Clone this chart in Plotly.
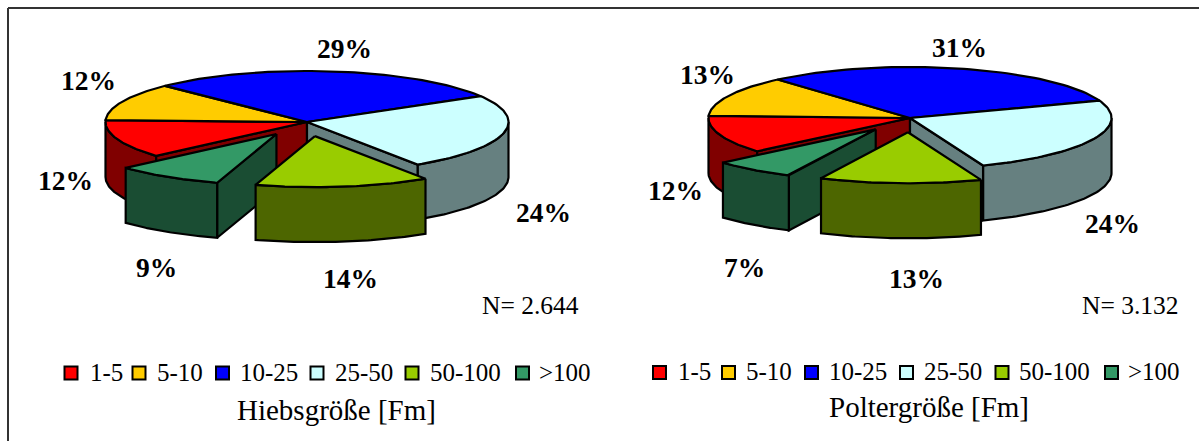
import numpy as np
import plotly.graph_objects as go

# ---- data ----
categories = ["1-5", "5-10", "10-25", "25-50", "50-100", ">100"]
hieb_values = [12.1, 12.0, 29.0, 24.2, 14.0, 8.7]
polter_values = [12.0, 12.9, 30.9, 24.6, 13.0, 6.6]
hieb_labels = ["12%", "12%", "29%", "24%", "14%", "9%"]
polter_labels = ["12%", "13%", "31%", "24%", "13%", "7%"]
hieb_title = "Hiebsgröße [Fm]"
polter_title = "Poltergröße [Fm]"
hieb_n = "N= 2.644"
polter_n = "N= 3.132"

# ---- styles ----
top_colors = ["#FF0000", "#FFCC00", "#0000FF", "#CCFFFF", "#99CC00", "#339966"]
side_colors = ["#800000", "#806600", "#000080", "#668080", "#4D6600", "#1A4D33"]
FONT = "Liberation Serif"
RX, RY, DEPTH, EXPLODE = 201.5, 51.0, 55.0, 0.28
LW = 2.2

fig = go.Figure()


def arc(cx, cy, a0, a1, n=60):
    t = np.radians(np.linspace(a0, a1, n))
    return cx + RX * np.cos(t), cy - RY * np.sin(t)


def poly(xs, ys, color):
    fig.add_trace(go.Scatter(
        x=np.round(xs, 2).tolist(), y=np.round(ys, 2).tolist(), mode="lines",
        fill="toself", fillcolor=color, line=dict(color="black", width=LW),
        hoverinfo="skip", showlegend=False))


def top(cx, cy, a0, a1, color):
    ax, ay = arc(cx, cy, a0, a1)
    poly(np.r_[cx, ax, cx], np.r_[cy, ay, cy], color)


def wall_arc(cx, cy, a0, a1, color):
    ax, ay = arc(cx, cy, a0, a1)
    poly(np.r_[ax, ax[::-1], ax[0]], np.r_[ay, ay[::-1] + DEPTH, ay[0]], color)


def wall_cut(cx, cy, a, color):
    px, py = arc(cx, cy, a, a, 1)
    poly(np.r_[cx, px, px, cx, cx], np.r_[cy, py, py + DEPTH, cy + DEPTH, cy], color)


def pie3d(values, cx, cy, split):
    """split = angle of the boundary between the first two slices; slices run clockwise."""
    start = split + values[0] * 3.6
    b = start - np.cumsum([0] + list(values)) * 3.6
    off = []
    for i in (4, 5):
        m = np.radians((b[i] + b[i + 1]) / 2)
        off.append((cx + EXPLODE * RX * np.cos(m), cy - EXPLODE * RY * np.sin(m)))
    # body of the pie, back to front
    wall_arc(cx, cy, 180, b[0], side_colors[0])
    wall_cut(cx, cy, b[0], side_colors[0])
    wall_arc(cx, cy, 0, b[4], side_colors[3])
    wall_cut(cx, cy, b[4], side_colors[3])
    top(cx, cy, b[0], b[1], top_colors[0])
    top(cx, cy, b[1], b[2], top_colors[1])
    top(cx, cy, b[2], b[3], top_colors[2])
    top(cx, cy, b[3], b[4], top_colors[3])
    # >100 slice
    tx, ty = off[1]
    wall_cut(tx, ty, b[5], side_colors[5])
    wall_arc(tx, ty, b[5], b[6], side_colors[5])
    top(tx, ty, b[5], b[6], top_colors[5])
    # 50-100 slice
    gx, gy = off[0]
    wall_arc(gx, gy, b[4], b[5], side_colors[4])
    top(gx, gy, b[4], b[5], top_colors[4])


pie3d(hieb_values, 307, 122, 178)
pie3d(polter_values, 910, 118, 177.5)

# ---- legends ----
hieb_key_x = [71, 139, 222.5, 317, 412, 522.5]
hieb_txt_x = [88, 155, 238, 333, 428, 537]
polter_key_x = [659.5, 728.5, 811.5, 906.5, 1002, 1111.5]
polter_txt_x = [676, 744, 827, 922, 1017, 1126]
LEG_Y = (373, 372.5)

annotations = []


def note(x, y, text, size, bold=False, anchor="center"):
    annotations.append(dict(
        x=x, y=y, xref="x", yref="y", text=f"<b>{text}</b>" if bold else text,
        showarrow=False, xanchor=anchor, yanchor="middle",
        font=dict(family=FONT, size=size, color="black")))


for keys, txts, y in ((hieb_key_x, hieb_txt_x, LEG_Y[0]), (polter_key_x, polter_txt_x, LEG_Y[1])):
    for k, t, name, col in zip(keys, txts, categories, top_colors):
        fig.add_trace(go.Scatter(
            x=[k], y=[y], mode="markers", name=name, showlegend=False, hoverinfo="skip",
            marker=dict(symbol="square", size=13, color=col, line=dict(color="black", width=2))))
        note(t, y - 1, name, 25, anchor="left")

# ---- data labels ----
hieb_lab_xy = [(65, 180), (88, 80), (344, 48), (543, 212), (350, 278), (156, 267)]
polter_lab_xy = [(675, 190), (707, 74), (959, 47), (1112, 223), (916, 278), (744, 267)]
for txt, (x, y) in zip(hieb_labels, hieb_lab_xy):
    note(x, y, txt, 27.5, bold=True)
for txt, (x, y) in zip(polter_labels, polter_lab_xy):
    note(x, y, txt, 27.5, bold=True)

note(530, 305, hieb_n, 25.5)
note(1130, 305, polter_n, 25.5)
note(336, 410, hieb_title, 29)
note(929, 407, polter_title, 29)

fig.update_layout(
    width=1199, height=441, margin=dict(l=0, r=0, t=0, b=0),
    paper_bgcolor="white", plot_bgcolor="white", showlegend=False,
    annotations=annotations,
    xaxis=dict(range=[0, 1199], visible=False, fixedrange=True),
    yaxis=dict(range=[441, 0], visible=False, fixedrange=True),
    shapes=[dict(type="line", xref="x", yref="y", x0=8, y0=8, x1=1199, y1=8,
                 line=dict(color="#333333", width=2), layer="below"),
            dict(type="line", xref="x", yref="y", x0=8, y0=8, x1=8, y1=441,
                 line=dict(color="#333333", width=2), layer="below")],
)
fig.write_html("out.html", config={"displayModeBar": False},
               post_script="document.body.style.margin='0';document.body.style.overflow='hidden';")
